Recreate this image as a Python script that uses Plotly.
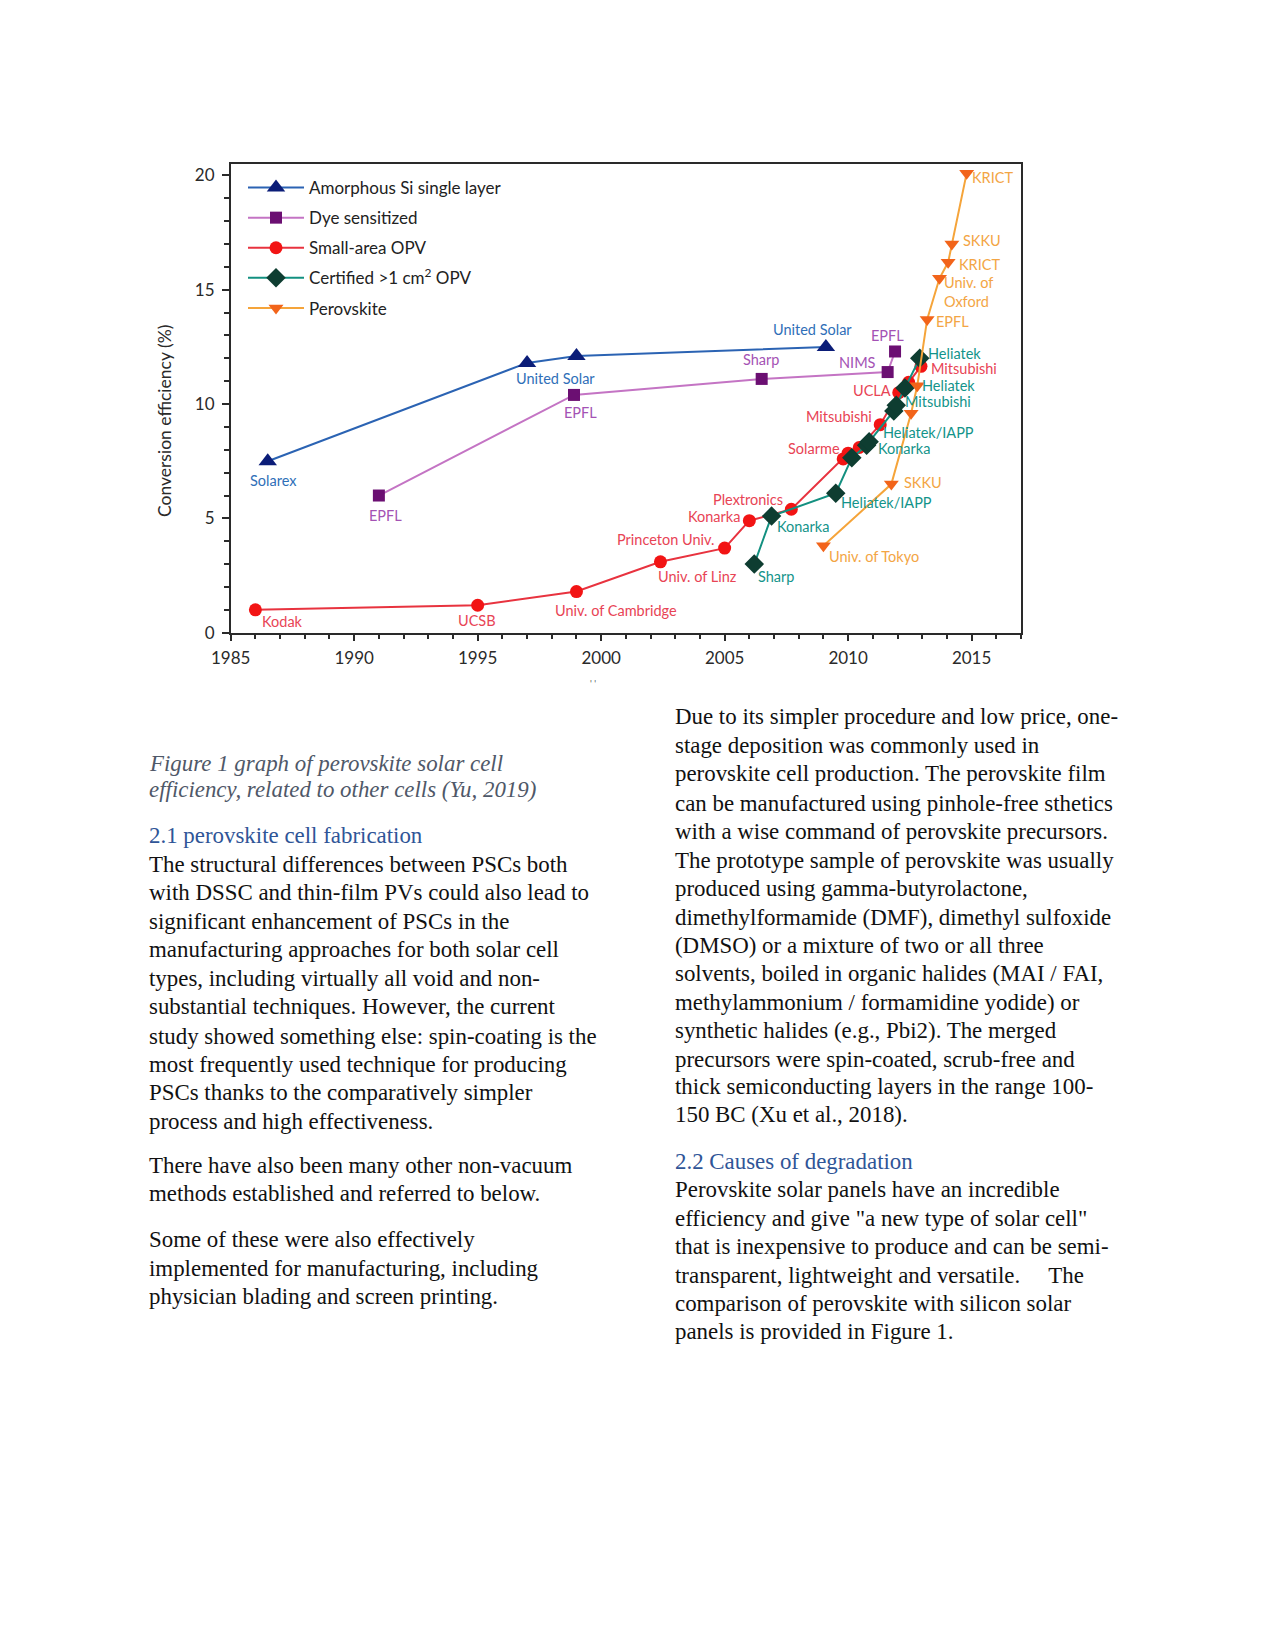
import plotly.graph_objects as go

# ---------------- DATA ----------------
years_amorph = [1986.5, 1997.0, 1999.0, 2009.1]
eff_amorph = [7.5, 11.8, 12.1, 12.5]
lab_amorph = ["Solarex", "United Solar", None, "United Solar"]

years_dye = [1991.0, 1998.9, 2006.5, 2011.6, 2011.9]
eff_dye = [6.0, 10.4, 11.1, 11.4, 12.3]
lab_dye = ["EPFL", "EPFL", "Sharp", "NIMS", "EPFL"]

years_opv = [1986.0, 1995.0, 1999.0, 2002.4, 2005.0, 2006.0, 2007.7, 2009.8, 2010.0,
             2010.45, 2011.3, 2012.05, 2012.45, 2012.95]
eff_opv = [1.0, 1.2, 1.8, 3.1, 3.7, 4.9, 5.4, 7.6, 7.85, 8.1, 9.1, 10.5, 10.95, 11.65]
lab_opv = ["Kodak", "UCSB", "Univ. of Cambridge", "Univ. of Linz", "Princeton Univ.",
           "Konarka", "Plextronics", "Solarme", None, None, "Mitsubishi", "UCLA", None,
           "Mitsubishi"]

years_cert = [2006.2, 2006.9, 2009.5, 2010.15, 2010.75, 2010.85, 2011.85, 2011.95, 2012.3, 2012.9]
eff_cert = [3.0, 5.1, 6.1, 7.65, 8.2, 8.35, 9.7, 9.95, 10.7, 12.0]
lab_cert = ["Sharp", "Konarka", "Heliatek/IAPP", None, None, "Konarka", "Heliatek/IAPP",
            "Mitsubishi", "Heliatek", "Heliatek"]

years_perov = [2009.0, 2011.75, 2012.55, 2012.8, 2013.2, 2013.7, 2014.05, 2014.2, 2014.8]
eff_perov = [3.8, 6.5, 9.6, 10.8, 13.7, 15.5, 16.2, 17.0, 20.1]
lab_perov = ["Univ. of Tokyo", "SKKU", None, None, "EPFL", "Univ. of<br>Oxford", "KRICT",
             "SKKU", "KRICT"]

x_ticks = [1985, 1990, 1995, 2000, 2005, 2010, 2015]
y_ticks = [0, 5, 10, 15, 20]

# ---------------- STYLE / LAYOUT ----------------
PAGE_W, PAGE_H = 1275, 1651
M = 8  # default body margin of the page
W, H = PAGE_W - 2 * M, PAGE_H - 2 * M
S = 1275 / 1211.0  # shrunk -> full factor for text layout positions


def px(xf):
    return (xf - M) / W


def py(yf):
    return 1 - (yf - M) / H


# label offsets (pixels, dx right, dy down) per series, same order as labels
off_amorph = [(6, 19), (28, 16), None, (-13, -17)]
off_dye = [(7, 20), (7, 18), (-1, -19), (-30, -10), (-8, -16)]
off_opv = [(27, 12), (-1, 15), (40, 19), (37, 15), (-59, -9), (-35, -4), (-43, -10),
           (-29, -10), None, None, (-41, -8), (-27, -2), None, (43, 2)]
off_cert = [(22, 12), (31, 10), (51, 9), None, None, (35, 7), (35, 22), (42, -4),
            (44, -3), (35, -5)]
off_perov = [(51, 11), (32, -2), None, None, (25, 2), (29, 14), (31, 2), (30, -4), (26, 4)]

series = [
    dict(name="Amorphous Si single layer", x=years_amorph, y=eff_amorph, lab=lab_amorph,
         off=off_amorph, sym="triangle-up", size=16, mcol="#0b1d78", lcol="#2b63b3",
         tcol="#2f6fb8"),
    dict(name="Dye sensitized", x=years_dye, y=eff_dye, lab=lab_dye, off=off_dye,
         sym="square", size=12, mcol="#6b0f72", lcol="#c474c4", tcol="#a452b4"),
    dict(name="Small-area OPV", x=years_opv, y=eff_opv, lab=lab_opv, off=off_opv,
         sym="circle", size=13, mcol="#f21414", lcol="#e8333f", tcol="#e84455"),
    dict(name="Certified >1 cm<sup>2</sup> OPV", x=years_cert, y=eff_cert, lab=lab_cert,
         off=off_cert, sym="diamond", size=15, mcol="#0e3d31", lcol="#139080",
         tcol="#13948a"),
    dict(name="Perovskite", x=years_perov, y=eff_perov, lab=lab_perov, off=off_perov,
         sym="triangle-down", size=13, mcol="#f2641a", lcol="#f5a43a", tcol="#f3a544"),
]

CHART_FONT = "Lato, 'Open Sans', sans-serif"
TEXT_FONT = "'Liberation Serif', 'Times New Roman', serif"
AX_COL = "#2a2a2a"

fig = go.Figure()
annotations = []
for s in series:
    fig.add_trace(go.Scatter(
        x=s["x"], y=s["y"], mode="lines+markers", name=s["name"],
        legendgroup=s["name"],
        line=dict(color=s["lcol"], width=2),
        marker=dict(symbol=s["sym"], size=s["size"], color=s["mcol"]),
        cliponaxis=False,
    ))
    for xv, yv, lab, off in zip(s["x"], s["y"], s["lab"], s["off"]):
        if lab is None:
            continue
        annotations.append(dict(
            x=xv, y=yv, xref="x", yref="y", text=lab, showarrow=False,
            xanchor="center", yanchor="middle",
            xshift=off[0], yshift=-off[1], align="left",
            font=dict(family=CHART_FONT, size=14.5, color=s["tcol"]),
        ))

# axis title
annotations.append(dict(
    x=px(165), y=py(421), xref="paper", yref="paper", text="Conversion efficiency (%)",
    textangle=-90, showarrow=False, xanchor="center", yanchor="middle",
    font=dict(family=CHART_FONT, size=17.5, color=AX_COL),
))
# remnant of the cut-off x-axis title
annotations.append(dict(
    x=px(593), y=py(684), xref="paper", yref="paper", text="' '",
    showarrow=False, xanchor="center", yanchor="middle",
    font=dict(family=CHART_FONT, size=9, color="#555555"),
))

# ---------------- DOCUMENT TEXT ----------------
caption = [("Figure 1 graph of perovskite solar cell", 725),
           ("efficiency, related to other cells (Yu, 2019)", 750)]
head1 = [("2.1 perovskite cell fabrication", 794)]
left_body = [
    ("The structural differences between PSCs both", 821),
    ("with DSSC and thin-film PVs could also lead to", 848),
    ("significant enhancement of PSCs in the", 875),
    ("manufacturing approaches for both solar cell", 902),
    ("types, including virtually all void and non-", 929),
    ("substantial techniques. However, the current", 956),
    ("study showed something else: spin-coating is the", 984),
    ("most frequently used technique for producing", 1011),
    ("PSCs thanks to the comparatively simpler", 1038),
    ("process and high effectiveness.", 1065),
    ("There have also been many other non-vacuum", 1107),
    ("methods established and referred to below.", 1134),
    ("Some of these were also effectively", 1177),
    ("implemented for manufacturing, including", 1205),
    ("physician blading and screen printing.", 1231),
]
right_body = [
    ("Due to its simpler procedure and low price, one-", 681),
    ("stage deposition was commonly used in", 708),
    ("perovskite cell production. The perovskite film", 735),
    ("can be manufactured using pinhole-free sthetics", 763),
    ("with a wise command of perovskite precursors.", 790),
    ("The prototype sample of perovskite was usually", 817),
    ("produced using gamma-butyrolactone,", 844),
    ("dimethylformamide (DMF), dimethyl sulfoxide", 871),
    ("(DMSO) or a mixture of two or all three", 898),
    ("solvents, boiled in organic halides (MAI / FAI,", 925),
    ("methylammonium / formamidine yodide) or", 952),
    ("synthetic halides (e.g., Pbi2). The merged", 979),
    ("precursors were spin-coated, scrub-free and", 1006),
    ("thick semiconducting layers in the range 100-", 1032),
    ("150 BC (Xu et al., 2018).", 1059),
    ("Perovskite solar panels have an incredible", 1130),
    ("efficiency and give \"a new type of solar cell\"", 1157),
    ("that is inexpensive to produce and can be semi-", 1184),
    ("transparent, lightweight and versatile.\u00a0\u00a0\u00a0\u00a0 The", 1211),
    ("comparison of perovskite with silicon solar", 1238),
    ("panels is provided in Figure 1.", 1265),
]
head2 = [("2.2 Causes of degradation", 1103)]

FS = 22.9


def add_lines(lines, x_shr, color, italic=False):
    for txt, y_shr in lines:
        t = f"<i>{txt}</i>" if italic else txt
        annotations.append(dict(
            x=px(x_shr * S), y=py(y_shr * S), xref="paper", yref="paper",
            text=t, showarrow=False, xanchor="left", yanchor="middle",
            font=dict(family=TEXT_FONT, size=FS, color=color),
        ))


add_lines(caption, 140, "#4f5868", italic=True)
add_lines(head1, 140, "#2f5597")
add_lines(left_body, 140, "#111111")
add_lines(right_body, 639, "#111111")
add_lines(head2, 639, "#2f5597")

x0, x1 = px(230.7), px(1021)
y0, y1 = py(632.7), py(164)

axis_common = dict(showgrid=False, zeroline=False, showline=True, linecolor=AX_COL,
                   linewidth=1.5, mirror=True, ticks="outside", tickcolor=AX_COL,
                   ticklen=7, tickwidth=1.5, automargin=False,
                   tickfont=dict(family=CHART_FONT, size=17, color=AX_COL))

fig.update_layout(
    width=W, height=H, autosize=False,
    margin=dict(l=0, r=0, t=0, b=0, pad=0, autoexpand=False),
    paper_bgcolor="white", plot_bgcolor="white",
    showlegend=True,
    legend=dict(x=px(243), y=py(170), xanchor="left", yanchor="top",
                bgcolor="rgba(0,0,0,0)", tracegroupgap=5, itemwidth=56,
                font=dict(family=CHART_FONT, size=17, color="#222222")),
    xaxis=dict(domain=[x0, x1], range=[1985, 2017], tickvals=x_ticks,
               ticktext=[str(v) for v in x_ticks], ticklabelstandoff=2,
               minor=dict(dtick=1, tick0=1985, ticks="outside", ticklen=5,
                          tickcolor=AX_COL, tickwidth=1.5),
               **axis_common),
    yaxis=dict(domain=[y0, y1], range=[0, 20.5], tickvals=y_ticks,
               ticktext=[str(v) for v in y_ticks], ticklabelstandoff=4,
               minor=dict(dtick=1, tick0=0, ticks="outside", ticklen=5,
                          tickcolor=AX_COL, tickwidth=1.5),
               **axis_common),
    annotations=annotations,
)

fig.write_html("out.html", config={"displayModeBar": False})
